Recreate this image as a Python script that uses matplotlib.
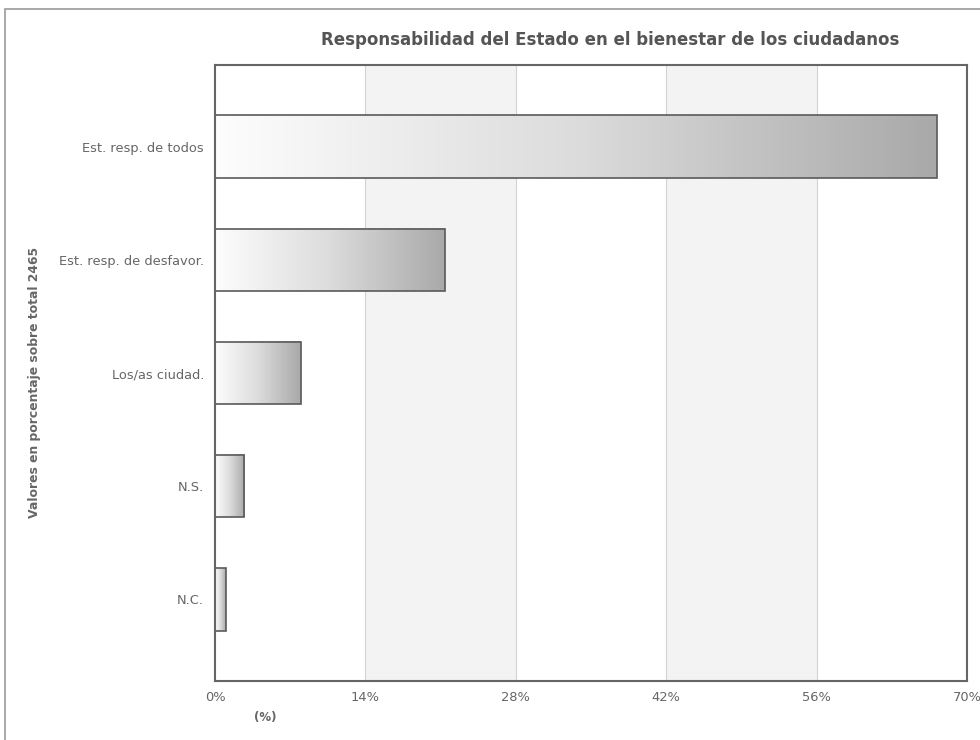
import numpy as np
import matplotlib
matplotlib.use("Agg")
from matplotlib import pyplot as plt
from matplotlib.colors import LinearSegmentedColormap
from matplotlib.patches import Rectangle

# datos
categorias = ["Est. resp. de todos", "Est. resp. de desfavor.", "Los/as ciudad.", "N.S.", "N.C."]
valores = [67.2, 21.4, 8.0, 2.7, 1.0]
ticks_x = [0, 14, 28, 42, 56, 70]
etiquetas_x = ["0%", "14%", "28%", "42%", "56%", "70%"]

plt.rcParams['font.family'] = ['DejaVu Sans']

fig = plt.figure(figsize=(9.8, 7.4), dpi=100)
ax = fig.add_axes([215 / 980, 1 - 681 / 740, 752 / 980, 616 / 740])

# marco exterior
fig.patches.append(Rectangle((5 / 980, -0.1), 1.2, 1.1 - 9 / 740,
                             transform=fig.transFigure, fill=False,
                             edgecolor="#9a9a9a", linewidth=1.2))

# bandas alternas y rejilla
for i in range(len(ticks_x) - 1):
    if i % 2 == 1:
        ax.axvspan(ticks_x[i], ticks_x[i + 1], color="#f3f3f3", zorder=0, lw=0)
for t in ticks_x[1:-1]:
    ax.axvline(t, color="#d2d2d2", lw=0.8, zorder=1)

y = np.arange(len(categorias))
bars = ax.barh(y, valores, height=0.55, facecolor="none",
               edgecolor="#5a5a5a", linewidth=1.2, zorder=3)

cmap = LinearSegmentedColormap.from_list("gris", ["#fdfdfd", "#dcdcdc", "#a9a9a9"])
grad = np.linspace(0, 1, 256).reshape(1, -1)
for b in bars:
    x0, y0, w, h = b.get_x(), b.get_y(), b.get_width(), b.get_height()
    ax.imshow(grad, extent=(x0, x0 + w, y0, y0 + h), aspect="auto",
              cmap=cmap, zorder=2, interpolation="bilinear")

ax.set_xlim(0, 70)
ax.set_ylim(4.72, -0.72)
ax.set_yticks(y)
ax.set_yticklabels(categorias)
ax.set_xticks(ticks_x)
ax.set_xticklabels(etiquetas_x)
ax.tick_params(length=0, labelsize=9.4, labelcolor="#666666")
ax.tick_params(axis="y", pad=8)
ax.tick_params(axis="x", pad=7)
for s in ax.spines.values():
    s.set_color("#666666")
    s.set_linewidth(1.5)
    s.set_zorder(5)

fig.text(610 / 980, 1 - 40 / 740, "Responsabilidad del Estado en el bienestar de los ciudadanos",
         ha="center", va="center", fontsize=12, fontweight="bold", color="#555555")
fig.text(35 / 980, 1 - 382 / 740, "Valores en porcentaje sobre total 2465",
         ha="center", va="center", rotation=90, fontsize=8.9, fontweight="bold", color="#666666")
fig.text(265 / 980, 1 - 718 / 740, "(%)", ha="center", va="center",
         fontsize=8.5, fontweight="bold", color="#666666")

fig.savefig("out.png", dpi=100)
